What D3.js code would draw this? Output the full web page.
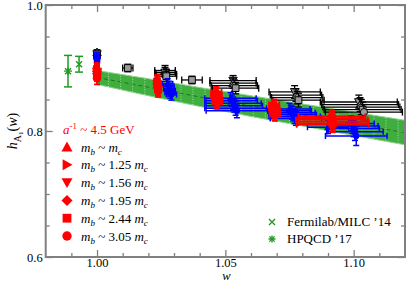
<!DOCTYPE html>
<html>
<head>
<meta charset="utf-8">
<script src="https://cdn.jsdelivr.net/npm/d3@7"></script>
<style>
  body { margin: 0; background: #fff; }
  svg, svg text { font-family: "Liberation Serif", "Times New Roman", Times, "DejaVu Serif", serif; }
</style>
</head>
<body>
<svg id="chart" width="407" height="281"></svg>
<script>
// marker shapes: 0 up, 1 right, 2 down, 3 diamond, 4 square, 5 circle
var massRatios = ["", "1.25", "1.56", "1.95", "2.44", "3.05"];

// points: [shape, w, dw, h, dh]
var redPts = [
  [0, 1.000, 0, 0.900, 0.008], [1, 1.000, 0, 0.897, 0.008], [2, 1.000, 0, 0.894, 0.008],
  [3, 1.000, 0, 0.891, 0.008], [4, 1.000, 0, 0.888, 0.009], [5, 1.000, 0, 0.884, 0.010],
  [0, 1.0235, 0.001, 0.880, 0.009], [1, 1.0235, 0.001, 0.877, 0.009], [2, 1.0235, 0.001, 0.874, 0.009],
  [3, 1.0238, 0.001, 0.870, 0.010], [4, 1.0238, 0.001, 0.867, 0.010], [5, 1.0238, 0.001, 0.864, 0.010],
  [0, 1.0465, 0.002, 0.862, 0.008], [1, 1.0465, 0.002, 0.858, 0.009], [2, 1.0465, 0.002, 0.855, 0.009],
  [3, 1.0468, 0.002, 0.851, 0.010], [4, 1.0468, 0.002, 0.848, 0.010], [5, 1.0468, 0.002, 0.845, 0.010],
  [0, 1.069, 0.002, 0.842, 0.008], [1, 1.069, 0.002, 0.839, 0.009], [2, 1.069, 0.002, 0.836, 0.009],
  [3, 1.0693, 0.002, 0.833, 0.010], [4, 1.0693, 0.002, 0.830, 0.010], [5, 1.0693, 0.002, 0.826, 0.010],
  [0, 1.0915, 0.013, 0.823, 0.010], [1, 1.0915, 0.013, 0.820, 0.011], [2, 1.0915, 0.014, 0.818, 0.011],
  [3, 1.0918, 0.014, 0.815, 0.012], [4, 1.0918, 0.014, 0.812, 0.012], [5, 1.0918, 0.014, 0.810, 0.012]
];

var bluePts = [
  [0, 1.000, 0, 0.919, 0.005], [1, 1.000, 0, 0.917, 0.005], [2, 1.000, 0, 0.915, 0.005],
  [3, 1.000, 0, 0.913, 0.005], [4, 1.000, 0, 0.911, 0.006], [5, 1.000, 0, 0.909, 0.006],
  [0, 1.0275, 0.002, 0.875, 0.008], [1, 1.028, 0.002, 0.871, 0.008], [2, 1.028, 0.002, 0.867, 0.009],
  [3, 1.0285, 0.002, 0.864, 0.009], [4, 1.0285, 0.002, 0.861, 0.009], [5, 1.029, 0.002, 0.858, 0.009],
  [0, 1.052, 0.010, 0.852, 0.009], [1, 1.0525, 0.010, 0.848, 0.009], [2, 1.053, 0.011, 0.844, 0.010],
  [3, 1.0535, 0.011, 0.840, 0.010], [4, 1.054, 0.012, 0.836, 0.011], [5, 1.0545, 0.012, 0.832, 0.011],
  [0, 1.075, 0.008, 0.835, 0.009], [1, 1.0755, 0.008, 0.832, 0.009], [2, 1.076, 0.009, 0.829, 0.010],
  [3, 1.0765, 0.009, 0.826, 0.010], [4, 1.077, 0.010, 0.823, 0.011], [5, 1.0775, 0.010, 0.820, 0.011],
  [0, 1.090, 0.008, 0.806, 0.010], [1, 1.099, 0.009, 0.812, 0.012], [2, 1.0995, 0.010, 0.808, 0.012],
  [3, 1.100, 0.010, 0.804, 0.013], [4, 1.1005, 0.011, 0.799, 0.014], [5, 1.101, 0.012, 0.792, 0.015]
];

var blackPts = [
  [0, 1.000, 0, 0.925, 0.004], [2, 1.000, 0, 0.922, 0.004], [4, 1.000, 0, 0.920, 0.004],
  [4, 1.012, 0.002, 0.900, 0.006],
  [0, 1.0265, 0.004, 0.896, 0.008], [2, 1.0265, 0.004, 0.893, 0.008], [3, 1.027, 0.004, 0.890, 0.008], [4, 1.027, 0.004, 0.887, 0.008],
  [4, 1.037, 0.004, 0.881, 0.006],
  [2, 1.053, 0.009, 0.880, 0.008], [0, 1.053, 0.009, 0.876, 0.008], [3, 1.0535, 0.009, 0.872, 0.009], [4, 1.054, 0.009, 0.868, 0.009],
  [2, 1.077, 0.010, 0.862, 0.010], [0, 1.0775, 0.010, 0.857, 0.010], [3, 1.078, 0.010, 0.853, 0.010], [4, 1.0785, 0.010, 0.849, 0.011],
  [2, 1.102, 0.015, 0.846, 0.011], [0, 1.1025, 0.015, 0.842, 0.011], [3, 1.103, 0.015, 0.838, 0.012], [4, 1.1035, 0.015, 0.834, 0.012], [5, 1.104, 0.015, 0.830, 0.012]
];

// Fermilab/MILC '14 band
var bandW  = [1.00, 1.02, 1.04, 1.06, 1.08, 1.10, 1.12];
var bandLo = [0.874, 0.856, 0.839, 0.823, 0.808, 0.793, 0.778];
var bandHi = [0.896, 0.883, 0.869, 0.856, 0.843, 0.830, 0.817];

// w = 1 results, shifted left for display: [w, h, dh]
var fnalPt  = [0.993, 0.906, 0.0125];
var hpqcdPt = [0.9887, 0.895, 0.025];

var xMajor = [1.00, 1.05, 1.10];
var xMinor = [0.99, 1.01, 1.02, 1.03, 1.04, 1.06, 1.07, 1.08, 1.09, 1.11];
var yMajor = [0.6, 0.8, 1.0];
var yMinor = [0.65, 0.7, 0.75, 0.85, 0.9, 0.95];

var FONT = "'Liberation Serif', 'Times New Roman', Times, serif";
var svg = d3.select("#chart");
var L = 45.7, R = 405, T = 5, B = 257;
var x = d3.scaleLinear().domain([0.98, 1.12]).range([L, R]);
var y = d3.scaleLinear().domain([0.6, 1.0]).range([B, T]);

function shape(k, s) {
  switch (k) {
    case 0: return "M0," + (-s) + "L" + s + "," + (s * 0.8) + "L" + (-s) + "," + (s * 0.8) + "Z";
    case 1: return "M" + s + ",0L" + (-s * 0.8) + "," + s + "L" + (-s * 0.8) + "," + (-s) + "Z";
    case 2: return "M0," + s + "L" + s + "," + (-s * 0.8) + "L" + (-s) + "," + (-s * 0.8) + "Z";
    case 3: return "M0," + (-s) + "L" + s + ",0L0," + s + "L" + (-s) + ",0Z";
    case 4: var q = s * 0.8; return "M" + (-q) + "," + (-q) + "H" + q + "V" + q + "H" + (-q) + "Z";
    default: var r = s * 0.85;
      return "M" + r + ",0A" + r + "," + r + " 0 1,1 " + (-r) + ",0A" + r + "," + r + " 0 1,1 " + r + ",0Z";
  }
}

// band
var band = svg.append("g");
var bandData = bandW.map(function(w, i) { return { w: w, lo: bandLo[i], hi: bandHi[i] }; });
band.append("path")
  .datum(bandData)
  .attr("fill", "#3fae3f")
  .attr("stroke", "#8fd48f")
  .attr("stroke-width", 1)
  .attr("d", d3.area().x(function(d) { return x(d.w); }).y0(function(d) { return y(d.lo); }).y1(function(d) { return y(d.hi); }));
band.append("path")
  .datum(bandData)
  .attr("fill", "none")
  .attr("stroke", "#157a15")
  .attr("stroke-width", 1)
  .attr("stroke-dasharray", "4,3")
  .attr("d", d3.line().x(function(d) { return x(d.w); }).y(function(d) { return (y(d.lo) + y(d.hi)) / 2; }));
var cutLo = d3.scaleLinear().domain(bandW).range(bandLo);
var cutHi = d3.scaleLinear().domain(bandW).range(bandHi);
band.selectAll("line.gap")
  .data(d3.range(1.0045, 1.12, 0.0047))
  .enter().append("line")
  .attr("x1", function(w) { return x(w); }).attr("x2", function(w) { return x(w); })
  .attr("y1", function(w) { return y(cutLo(w)); }).attr("y2", function(w) { return y(cutHi(w)); })
  .attr("stroke", "#d8f0d8").attr("stroke-width", 0.7).attr("stroke-dasharray", "1,1.5");

// error bars + markers
function drawSeries(pts, col, fill, size, cap, sw) {
  var g = svg.append("g");
  pts.forEach(function(p) {
    var cx = x(p[1]), cy = y(p[3]);
    var y1 = y(p[3] - p[4]), y2 = y(p[3] + p[4]);
    var eb = g.append("g").attr("stroke", col).attr("stroke-width", sw);
    eb.append("line").attr("x1", cx).attr("x2", cx).attr("y1", y1).attr("y2", y2);
    eb.append("line").attr("x1", cx - cap).attr("x2", cx + cap).attr("y1", y1).attr("y2", y1);
    eb.append("line").attr("x1", cx - cap).attr("x2", cx + cap).attr("y1", y2).attr("y2", y2);
    if (p[2] > 0) {
      var x1 = x(p[1] - p[2]), x2 = x(p[1] + p[2]);
      eb.append("line").attr("x1", x1).attr("x2", x2).attr("y1", cy).attr("y2", cy);
      eb.append("line").attr("x1", x1).attr("x2", x1).attr("y1", cy - cap).attr("y2", cy + cap);
      eb.append("line").attr("x1", x2).attr("x2", x2).attr("y1", cy - cap).attr("y2", cy + cap);
    }
    g.append("path")
      .attr("d", shape(p[0], size))
      .attr("transform", "translate(" + cx + "," + cy + ")")
      .attr("fill", fill).attr("stroke", col).attr("stroke-width", 1);
  });
}
drawSeries(blackPts, "#000", "#9a9a9a", 4.2, 3.5, 1.3);
drawSeries(bluePts, "#0000ff", "#0000ff", 3.3, 3, 1.5);
drawSeries(redPts, "#ff0000", "#ff0000", 4.5, 3, 1.8);

// green w=1 points
var green = "#1f9a1f";
[fnalPt, hpqcdPt].forEach(function(p) {
  var cx = x(p[0]), y1 = y(p[1] - p[2]), y2 = y(p[1] + p[2]);
  var g = svg.append("g").attr("stroke", green).attr("stroke-width", 1.5);
  g.append("line").attr("x1", cx).attr("x2", cx).attr("y1", y1).attr("y2", y2);
  g.append("line").attr("x1", cx - 4).attr("x2", cx + 4).attr("y1", y1).attr("y2", y1);
  g.append("line").attr("x1", cx - 4).attr("x2", cx + 4).attr("y1", y2).attr("y2", y2);
});
function cross(g, cx, cy, s) {
  g.append("path").attr("d", "M" + (cx - s) + "," + (cy - s) + "L" + (cx + s) + "," + (cy + s) +
    "M" + (cx - s) + "," + (cy + s) + "L" + (cx + s) + "," + (cy - s))
    .attr("stroke", green).attr("stroke-width", 1.4);
}
function star(g, cx, cy, s) {
  cross(g, cx, cy, s * 0.75);
  g.append("path").attr("d", "M" + (cx - s) + "," + cy + "H" + (cx + s) + "M" + cx + "," + (cy - s) + "V" + (cy + s))
    .attr("stroke", green).attr("stroke-width", 1.4);
}
var gm = svg.append("g");
cross(gm, x(fnalPt[0]), y(fnalPt[1]), 3);
star(gm, x(hpqcdPt[0]), y(hpqcdPt[1]), 4);

// axes (ticks inward, mirrored)
var axisCol = "#808080";
function styleAxis(g) {
  g.attr("font-family", FONT);
  g.select(".domain").remove();
  g.selectAll(".tick line").attr("stroke", axisCol).attr("stroke-width", 1.3);
  g.selectAll("text").attr("fill", "#000").attr("font-family", FONT).style("font-family", FONT).style("font-size", "12.5px");
}
svg.append("g").attr("transform", "translate(0," + B + ")")
  .call(d3.axisBottom(x).tickValues(xMajor).tickSize(-7).tickPadding(1.5).tickFormat(d3.format(".2f"))).call(styleAxis);
svg.append("g").attr("transform", "translate(0," + B + ")")
  .call(d3.axisBottom(x).tickValues(xMinor).tickSize(-4).tickFormat("")).call(styleAxis);
svg.append("g").attr("transform", "translate(0," + T + ")")
  .call(d3.axisTop(x).tickValues(xMajor).tickSize(-7).tickFormat("")).call(styleAxis);
svg.append("g").attr("transform", "translate(0," + T + ")")
  .call(d3.axisTop(x).tickValues(xMinor).tickSize(-4).tickFormat("")).call(styleAxis);
svg.append("g").attr("transform", "translate(" + L + ",0)")
  .call(d3.axisLeft(y).tickValues(yMajor).tickSize(-7).tickPadding(3).tickFormat(d3.format(".1f"))).call(styleAxis);
svg.append("g").attr("transform", "translate(" + L + ",0)")
  .call(d3.axisLeft(y).tickValues(yMinor).tickSize(-4).tickFormat("")).call(styleAxis);
svg.append("g").attr("transform", "translate(" + R + ",0)")
  .call(d3.axisRight(y).tickValues(yMajor).tickSize(-7).tickFormat("")).call(styleAxis);
svg.append("g").attr("transform", "translate(" + R + ",0)")
  .call(d3.axisRight(y).tickValues(yMinor).tickSize(-4).tickFormat("")).call(styleAxis);

svg.append("rect").attr("x", L).attr("y", T).attr("width", R - L).attr("height", B - T)
  .attr("fill", "none").attr("stroke", axisCol).attr("stroke-width", 2);

// axis titles
svg.append("text").attr("x", (L + R) / 2 + 1).attr("y", 279.5).attr("text-anchor", "middle")
  .attr("font-family", FONT).style("font-size", "12.5px").style("font-style", "italic").text("w");
var yl = svg.append("text").attr("transform", "translate(17," + ((T + B) / 2) + ") rotate(-90)")
  .attr("text-anchor", "middle").attr("font-family", FONT).style("font-size", "14px");
yl.append("tspan").style("font-style", "italic").text("h");
yl.append("tspan").attr("dy", 4).style("font-size", "10px").text("A");
yl.append("tspan").attr("dy", 2).style("font-size", "7px").text("1");
yl.append("tspan").attr("dy", -6).text("(");
yl.append("tspan").style("font-style", "italic").text("w");
yl.append("tspan").text(")");

// red legend
var lg = svg.append("g").attr("fill", "#ff0000").attr("font-family", FONT);
var t0 = lg.append("text").attr("x", 63).attr("y", 134).style("font-size", "13px");
t0.append("tspan").style("font-style", "italic").text("a");
t0.append("tspan").attr("dy", -5).style("font-size", "9px").text("-1");
t0.append("tspan").attr("dy", 5).text(" ~ 4.5 GeV");
massRatios.forEach(function(m, i) {
  var cy = 147 + i * 17.8;
  lg.append("path").attr("d", shape(i, 5.5)).attr("transform", "translate(67," + cy + ")");
  var t = svg.append("text").attr("x", 81).attr("y", cy + 4.5).attr("font-family", FONT).style("font-size", "13px");
  t.append("tspan").style("font-style", "italic").text("m");
  t.append("tspan").attr("dy", 3).style("font-size", "9px").style("font-style", "italic").text("b");
  t.append("tspan").attr("dy", -3).text(" ~ " + (m ? m + " " : ""));
  t.append("tspan").style("font-style", "italic").text("m");
  t.append("tspan").attr("dy", 3).style("font-size", "9px").style("font-style", "italic").text("c");
});

// green legend
var gl = svg.append("g");
cross(gl, 272, 222, 3);
star(gl, 272, 239, 3.5);
svg.append("text").attr("x", 287).attr("y", 226).attr("font-family", FONT).style("font-size", "13px").text("Fermilab/MILC \u201914");
svg.append("text").attr("x", 287).attr("y", 243).attr("font-family", FONT).style("font-size", "13px").text("HPQCD \u201917");
</script>
</body>
</html>
